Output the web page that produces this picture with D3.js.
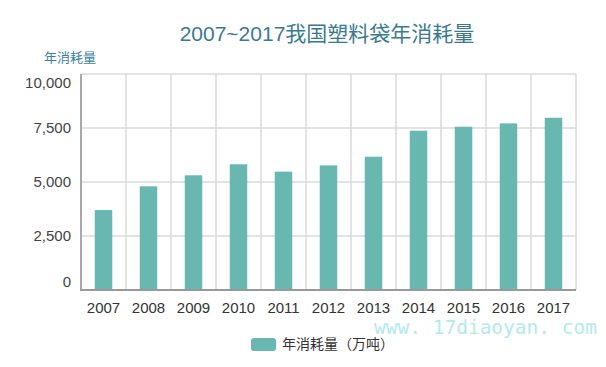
<!DOCTYPE html>
<html><head><meta charset="utf-8">
<script src="https://cdn.jsdelivr.net/npm/d3@7/dist/d3.min.js"></script>
<style>body{margin:0;background:#fff}svg{display:block}</style>
</head><body>
<svg id="c" width="606" height="367"></svg>
<script>
const title = "2007~2017我国塑料袋年消耗量";
const yAxisTitle = "年消耗量";
const seriesName = "年消耗量（万吨）";
const categories = ["2007","2008","2009","2010","2011","2012","2013","2014","2015","2016","2017"];
const values = [3700, 4800, 5310, 5820, 5480, 5770, 6170, 7375, 7560, 7715, 7975];
const yTicks = [0, 2500, 5000, 7500, 10000];
const watermark = "www. 17diaoyan. com";

const svg = d3.select("#c");
const m = {l:81, r:30, t:74, b:77};
const W = 606, H = 367;
const x = d3.scaleBand().domain(categories).range([m.l, W - m.r]).paddingInner(0).paddingOuter(0);
const y = d3.scaleLinear().domain([0, 10000]).range([H - m.b, m.t]);
const font = "Arial, 'Liberation Sans', 'Noto Sans CJK SC', sans-serif";
const barColor = "#68b8b1";

// grid
const g = svg.append("g");
g.selectAll(".hg").data(yTicks).join("line")
  .attr("x1", m.l).attr("x2", W - m.r)
  .attr("y1", d => y(d)).attr("y2", d => y(d))
  .attr("stroke", "#dadada").attr("stroke-width", 1.5);
g.selectAll(".vg").data(categories.slice(1).concat(["__end"])).join("line")
  .attr("x1", d => d === "__end" ? W - m.r : x(d)).attr("x2", d => d === "__end" ? W - m.r : x(d))
  .attr("y1", m.t).attr("y2", H - m.b)
  .attr("stroke", "#dadada").attr("stroke-width", 1.5);

// bars
const bw = 17.5;
svg.append("g").selectAll("rect").data(values).join("rect")
  .attr("x", (d,i) => x(categories[i]) + x.bandwidth()/2 - bw/2)
  .attr("width", bw)
  .attr("y", d => y(d))
  .attr("height", d => y(0) - y(d))
  .attr("fill", barColor);

// axes lines
svg.append("line").attr("x1", m.l).attr("x2", m.l).attr("y1", m.t).attr("y2", H - m.b)
  .attr("stroke", "#a8a8a8").attr("stroke-width", 2);
svg.append("line").attr("x1", m.l - 1).attr("x2", W - m.r).attr("y1", y(0)).attr("y2", y(0))
  .attr("stroke", "#999").attr("stroke-width", 2);

// y tick labels
const fmt = d3.format(",");
svg.append("g").selectAll("text").data(yTicks).join("text")
  .attr("x", 71)
  .attr("y", d => d === 0 ? y(d) - 8 : d === 10000 ? y(d) + 9 : y(d))
  .attr("dy", "0.35em")
  .attr("text-anchor", "end")
  .attr("font-family", font).attr("font-size", 15).attr("fill", "#444")
  .text(d => fmt(d));

// x tick labels
const xAxis = d3.axisBottom(x).tickSize(0).tickPadding(12);
const xa = svg.append("g").attr("transform", `translate(0,${y(0)})`).call(xAxis);
xa.select(".domain").remove();
xa.selectAll("text").attr("font-family", font).attr("font-size", 15).attr("fill", "#333");

// title
svg.append("text").attr("x", 327).attr("y", 41).attr("text-anchor", "middle")
  .attr("font-family", font).attr("font-size", 21).attr("fill", "#3b7a8e")
  .text(title);

// y axis title
svg.append("text").attr("x", 70).attr("y", 62).attr("text-anchor", "middle")
  .attr("font-family", font).attr("font-size", 13).attr("fill", "#3b7fa0")
  .text(yAxisTitle);

// watermark
svg.append("text").attr("x", 374).attr("y", 334)
  .attr("font-family", "'DejaVu Sans Mono', 'Liberation Mono', monospace").attr("font-size", 19.5)
  .attr("fill", "#b4e9ef").attr("textLength", 223).attr("lengthAdjust", "spacingAndGlyphs")
  .text(watermark);

// legend
const lg = svg.append("g");
lg.append("rect").attr("x", 251).attr("y", 338).attr("width", 25).attr("height", 13).attr("rx", 3)
  .attr("fill", barColor);
lg.append("text").attr("x", 282).attr("y", 344.5).attr("dy", "0.35em")
  .attr("font-family", font).attr("font-size", 14).attr("fill", "#333")
  .text(seriesName);
</script>
</body></html>
